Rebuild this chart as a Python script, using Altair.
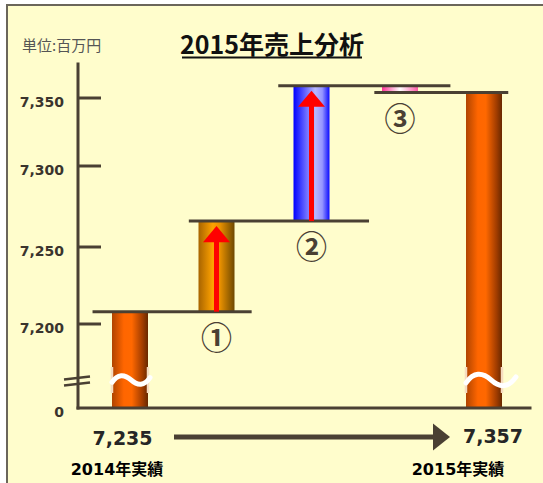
import altair as alt
import pandas as pd

# ---------------- data ----------------
categories = ["2014年実績", "①", "②", "③", "2015年実績"]
start_total = 7208          # top of the 2014 bar, read against the axis
changes = [58, 93, -5]      # ①, ②, ③ read against the axis
total_labels = ["7,235", "7,357"]
tick_values = [0, 7200, 7250, 7300, 7350]
tick_labels = ["0", "7,200", "7,250", "7,300", "7,350"]
title_text = "2015年売上分析"
unit_text = "単位:百万円"

# ---------------- styles ----------------
INK = "#4A4033"
BG = "#FFFDCC"
FRAME = "#6B665A"
NUM_FONT = "DejaVu Sans, Noto Sans CJK JP"
CJK_FONT = "Noto Sans CJK JP"

# piecewise scales reproduce the (hand-drawn) axis with its break
X = alt.Scale(domain=[-1.5, 0, 1, 2, 3, 4, 5.5],
              range=[0.25, 130, 216.5, 311.5, 400, 484, 610], zero=False, nice=False)
Y = alt.Scale(domain=[0, 7185, 7200, 7250, 7300, 7350, 7400],
              range=[408, 346, 324, 247, 166, 98, 30], zero=False, nice=False)
OVER_L = [0.45, 0.32, 0.35, 0.29]
OVER_R = [0.37, 0.65, 0.60, 0.30]
BREAK_VALUE = 3250
AXIS_TOP = 7375


def grad(stops):
    return alt.LinearGradient(
        gradient="linear",
        stops=[alt.GradientStop(offset=o, color=c) for o, c in stops],
        x1=0, x2=1, y1=0, y2=0)


G_TOTAL = grad([(0, "#B04400"), (0.33, "#FF6600"), (0.55, "#FF6800"), (0.85, "#A03C00"), (1, "#682800")])
G_INC1 = grad([(0, "#A86400"), (0.4, "#FFA200"), (0.6, "#E89000"), (1, "#6E4800")])
G_INC2 = grad([(0, "#0000FF"), (0.6, "#B8B8FF"), (0.8, "#9595FF"), (1, "#0A0AFF")])
G_DEC = grad([(0, "#FF3399"), (0.5, "#FFFFFF"), (1, "#FF5AA8")])

# ---------------- derived tables ----------------
levels = [start_total]
for c in changes:
    levels.append(levels[-1] + c)
end_total = levels[-1]

lo = [0] + [min(levels[k], levels[k + 1]) for k in range(3)] + [0]
hi = [start_total] + [max(levels[k], levels[k + 1]) for k in range(3)] + [end_total]
kinds = ["total", "inc1", "inc2", "dec", "total"]
bars = pd.DataFrame({"i": list(range(5)), "cat": categories, "lo": lo, "hi": hi, "kind": kinds})

conn = pd.DataFrame({
    "x0": [k - OVER_L[k] for k in range(4)],
    "x1": [k + 1 + OVER_R[k] for k in range(4)],
    "level": levels,
})

arrows = pd.DataFrame({
    "i": [k + 1 for k in range(3) if changes[k] > 0],
    "base": [levels[k] for k in range(3) if changes[k] > 0],
    "top": [levels[k + 1] for k in range(3) if changes[k] > 0],
})

circ = pd.DataFrame({"i": [1, 2, 3], "txt": categories[1:4], "y": lo[1:4]})
ticks = pd.DataFrame({"v": tick_values, "lab": tick_labels})
one = pd.DataFrame({"d": [0]})

xq = lambda f: alt.X(f, type="quantitative", scale=X, axis=None)
yq = lambda f: alt.Y(f, type="quantitative", scale=Y, axis=None)

layers = []

# frame / background
layers.append(alt.Chart(one).mark_rect(fill=BG, stroke=FRAME, strokeWidth=2).encode(
    x=alt.value(7), x2=alt.value(620), y=alt.value(5), y2=alt.value(620)))

# bars
for kind, g in [("total", G_TOTAL), ("inc1", G_INC1), ("inc2", G_INC2), ("dec", G_DEC)]:
    layers.append(alt.Chart(bars).transform_filter(alt.datum.kind == kind)
                  .mark_bar(size=36, fill=g, stroke=None)
                  .encode(x=xq("i"), y=yq("lo"), y2="hi"))

# connector lines
layers.append(alt.Chart(conn).mark_rule(color=INK, strokeWidth=3).encode(
    x=xq("x0"), x2="x1", y=yq("level")))

# break marks on the total bars
brk = pd.DataFrame({"i": [0, 4], "v": [BREAK_VALUE, BREAK_VALUE]})
layers.append(alt.Chart(brk).mark_point(
    shape="M-1,-0.72L-1,0.72M1,-0.72L1,0.72", size=1296, filled=False,
    stroke="#F6DCC0", strokeWidth=2.5, opacity=1).encode(x=xq("i"), y=yq("v")))
WAVE = "M-1,0.12 C-0.7,-0.32 -0.35,-0.32 0,0 C0.35,0.32 0.7,0.32 1,-0.12"
layers.append(alt.Chart(brk).transform_filter(alt.datum.i == 0).mark_point(
    shape=WAVE, size=1444, filled=False, stroke="white", strokeWidth=5,
    strokeCap="round", opacity=1, xOffset=1).encode(x=xq("i"), y=yq("v")))
layers.append(alt.Chart(brk).transform_filter(alt.datum.i == 4).mark_point(
    shape=WAVE, size=2500, filled=False, stroke="white", strokeWidth=5,
    strokeCap="round", opacity=1, xOffset=7).encode(x=xq("i"), y=yq("v")))

# red arrows inside rising bars
layers.append(alt.Chart(arrows).mark_rule(color="#FF0000", strokeWidth=5, y2Offset=13).encode(
    x=xq("i"), y=yq("base"), y2="top"))
layers.append(alt.Chart(arrows).mark_point(
    shape="M-1,0.6L1,0.6L0,-0.6Z", size=729, filled=True, color="#FF0000",
    opacity=1, yOffset=13).encode(x=xq("i"), y=yq("top")))

# circled step numbers
layers.append(alt.Chart(circ).mark_text(
    font=CJK_FONT, fontSize=31, fontWeight="bold", color=INK, baseline="middle", dy=28).encode(
    x=xq("i"), y=yq("y"), text="txt:N"))

# y axis: line, ticks, labels, break slashes
axis_df = pd.DataFrame({"a": [AXIS_TOP], "b": [0]})
layers.append(alt.Chart(axis_df).mark_rule(color=INK, strokeWidth=3, strokeCap="square").encode(
    x=alt.value(78), y=yq("a"), y2="b"))
layers.append(alt.Chart(axis_df).mark_rule(color=INK, strokeWidth=3, strokeCap="square").encode(
    x=alt.value(78), x2=alt.value(530), y=yq("b")))
layers.append(alt.Chart(ticks).transform_filter(alt.datum.v > 0).mark_rule(
    color=INK, strokeWidth=3).encode(x=alt.value(78), x2=alt.value(101), y=yq("v")))
layers.append(alt.Chart(ticks).mark_text(
    font=NUM_FONT, fontSize=14, fontWeight="bold", color="#3A342D",
    align="right", baseline="alphabetic", dy=9).encode(
    x=alt.value(64), y=yq("v"), text="lab:N"))
for yy in [378, 384]:
    layers.append(alt.Chart(one).mark_point(
        shape="M-1,0.12L1,-0.12", size=676, filled=False, stroke=INK,
        strokeWidth=2.5, opacity=1).encode(x=alt.value(77), y=alt.value(yy)))

# title with underline, unit label
layers.append(alt.Chart(one).mark_text(
    text=title_text, font=CJK_FONT, fontSize=25, fontWeight="bold", color="#111111",
    align="center", baseline="alphabetic").encode(x=alt.value(272), y=alt.value(54)))
layers.append(alt.Chart(one).mark_rule(color="#111111", strokeWidth=2).encode(
    x=alt.value(182), x2=alt.value(362), y=alt.value(57.5)))
layers.append(alt.Chart(one).mark_text(
    text=unit_text, font=CJK_FONT, fontSize=15, color="#555555",
    align="left", baseline="alphabetic").encode(x=alt.value(22), y=alt.value(51)))

# totals and year labels under the bars
tot = pd.DataFrame({"i": [0, 4], "lab": total_labels, "cat": [categories[0], categories[4]]})
for idx, dx, by in [(0, -7.5, 445), (4, 9, 443)]:
    layers.append(alt.Chart(tot).transform_filter(alt.datum.i == idx).mark_text(
        font=NUM_FONT, fontSize=19, fontWeight="bold", color="#262626",
        align="center", baseline="alphabetic", dx=dx).encode(
        x=xq("i"), y=alt.value(by), text="lab:N"))
for idx, dx in [(0, -13), (4, -26)]:
    layers.append(alt.Chart(tot).transform_filter(alt.datum.i == idx).mark_text(
        font=NUM_FONT, fontSize=16, fontWeight="bold", color="#000000",
        align="center", baseline="alphabetic", dx=dx).encode(
        x=xq("i"), y=alt.value(475), text="cat:N"))

# progression arrow between the totals
layers.append(alt.Chart(one).mark_rule(color=INK, strokeWidth=5).encode(
    x=alt.value(174), x2=alt.value(436), y=alt.value(437)))
layers.append(alt.Chart(one).mark_point(
    shape="M-0.63,-1L0.63,0L-0.63,1Z", size=729, filled=True, color=INK,
    opacity=1).encode(x=alt.value(441.5), y=alt.value(437)))

chart = alt.layer(*layers).properties(
    width=543, height=483, padding=0, autosize="none", background="white"
).configure_view(stroke=None)

chart.save("out.html", embed_options={"renderer": "svg", "actions": False})
